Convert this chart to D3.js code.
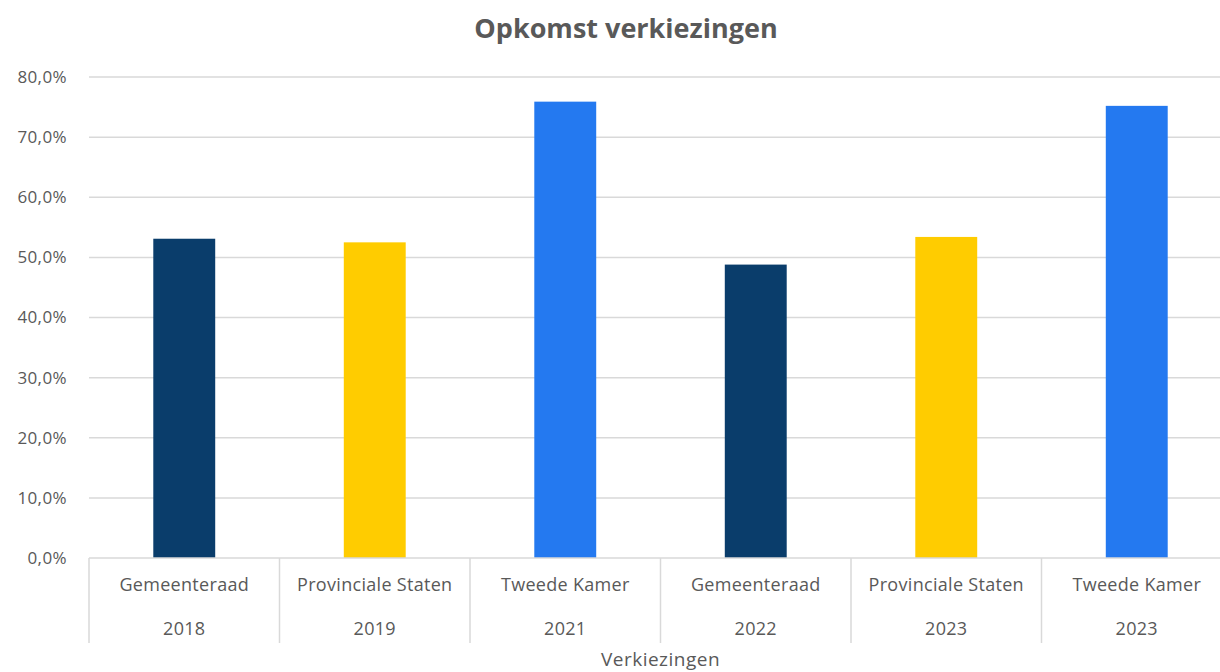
<!DOCTYPE html>
<html>
<head>
<meta charset="utf-8">
<script src="https://cdn.jsdelivr.net/npm/d3@7"></script>
<style>
  body { margin: 0; background: #fff; }
  svg { display: block; font-family: "Open Sans", sans-serif; }
</style>
</head>
<body>
<svg width="1220" height="672"></svg>
<script>
const elections = ["Gemeenteraad", "Provinciale Staten", "Tweede Kamer", "Gemeenteraad", "Provinciale Staten", "Tweede Kamer"]
const years = ["2018", "2019", "2021", "2022", "2023", "2023"]
const turnout = [53.1, 52.5, 75.9, 48.8, 53.4, 75.2]
const barColors = ["#0a3d6b", "#ffcc00", "#2479f0", "#0a3d6b", "#ffcc00", "#2479f0"]
const yTicks = [0, 10, 20, 30, 40, 50, 60, 70, 80]

const svg = d3.select("svg")

const plotLeft = 89, plotRight = 1232, plotTop = 77, plotBottom = 558

const x = d3.scaleBand()
  .domain(d3.range(elections.length))
  .range([plotLeft, plotRight])
  .padding(0)

const y = d3.scaleLinear()
  .domain([0, 80])
  .range([plotBottom, plotTop])

const fmt = v => d3.format(".1f")(v).replace(".", ",") + "%"

// gridlines
svg.append("g")
  .selectAll("line")
  .data(yTicks.filter(d => d > 0))
  .enter()
  .append("line")
  .attr("x1", plotLeft)
  .attr("x2", 1220)
  .attr("y1", d => y(d))
  .attr("y2", d => y(d))
  .attr("stroke", "#d9d9d9")
  .attr("stroke-width", 1.5)

// y axis labels
svg.append("g")
  .selectAll("text")
  .data(yTicks)
  .enter()
  .append("text")
  .attr("x", 67)
  .attr("y", d => y(d))
  .attr("dy", "0.35em")
  .attr("text-anchor", "end")
  .attr("fill", "#595959")
  .style("font-size", "17px")
  .style("letter-spacing", "0.4px")
  .text(fmt)

// bars
const barW = x.bandwidth() * 0.325
svg.append("g")
  .selectAll("rect")
  .data(turnout)
  .enter()
  .append("rect")
  .attr("x", (d, i) => x(i) + (x.bandwidth() - barW) / 2)
  .attr("y", d => y(d))
  .attr("width", barW)
  .attr("height", d => y(0) - y(d))
  .attr("fill", (d, i) => barColors[i])

// x axis line and category separators
svg.append("line")
  .attr("x1", plotLeft).attr("x2", 1220)
  .attr("y1", plotBottom).attr("y2", plotBottom)
  .attr("stroke", "#d9d9d9")
  .attr("stroke-width", 1.5)

svg.append("g")
  .selectAll("line")
  .data(d3.range(elections.length + 1))
  .enter()
  .append("line")
  .attr("x1", i => i < elections.length ? x(i) : plotRight)
  .attr("x2", i => i < elections.length ? x(i) : plotRight)
  .attr("y1", plotBottom)
  .attr("y2", 643)
  .attr("stroke", "#d9d9d9")
  .attr("stroke-width", 1.5)

const labels = svg.append("g")
  .attr("fill", "#595959")
  .style("font-size", "18px")
  .style("letter-spacing", "0.3px")
  .attr("text-anchor", "middle")

labels.selectAll("text.cat")
  .data(elections)
  .enter()
  .append("text")
  .attr("class", "cat")
  .attr("x", (d, i) => x(i) + x.bandwidth() / 2)
  .attr("y", 591)
  .text(d => d)

labels.selectAll("text.year")
  .data(years)
  .enter()
  .append("text")
  .attr("class", "year")
  .attr("x", (d, i) => x(i) + x.bandwidth() / 2)
  .attr("y", 635)
  .text(d => d)

// axis title
svg.append("text")
  .attr("x", (plotLeft + plotRight) / 2)
  .attr("y", 666)
  .attr("text-anchor", "middle")
  .attr("fill", "#595959")
  .style("font-size", "19px")
  .style("letter-spacing", "0.5px")
  .text("Verkiezingen")

// title
svg.append("text")
  .attr("x", 626)
  .attr("y", 38)
  .attr("text-anchor", "middle")
  .attr("fill", "#595959")
  .style("font-size", "27px")
  .style("font-weight", "bold")
  .text("Opkomst verkiezingen")
</script>
</body>
</html>
